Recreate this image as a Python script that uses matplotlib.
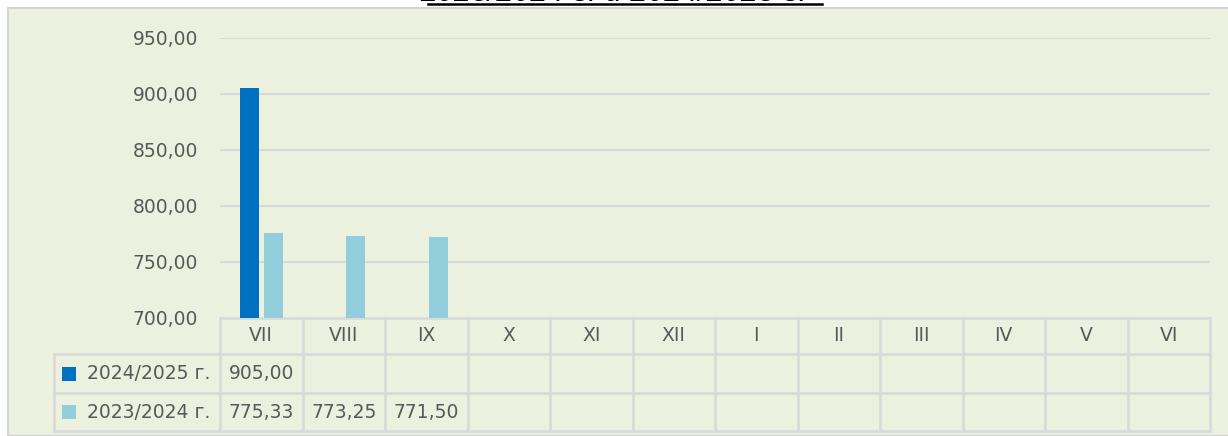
import numpy as np
import matplotlib.pyplot as plt
from matplotlib.patches import Rectangle
from matplotlib.transforms import blended_transform_factory

months = ['VII', 'VIII', 'IX', 'X', 'XI', 'XII', 'I', 'II', 'III', 'IV', 'V', 'VI']
series_names = ['2024/2025 г.', '2023/2024 г.']
vals_2425 = [905.00, None, None, None, None, None, None, None, None, None, None, None]
vals_2324 = [775.33, 773.25, 771.50, None, None, None, None, None, None, None, None, None]
yticks = [700, 750, 800, 850, 900, 950]
title_text = '2023/2024 г. и 2024/2025 г.'

colors = ['#0070C0', '#92CDDC']
bg = '#EBF0DF'
grid_c = '#D9D9D9'
txt_c = '#595959'

W, H = 1228, 436
fig = plt.figure(figsize=(W / 100, H / 100), dpi=100)
fig.patch.set_facecolor('white')

def fx(px):
    return px / W

def fy(py):
    return 1 - py / H

# chart panel
fig.patches.append(Rectangle((fx(8), 0), 1.0, fy(8), transform=fig.transFigure,
                             facecolor=bg, edgecolor='#D4D4D4', linewidth=1.5, zorder=-5))

# title (only its last line fits in the picture)
fig.text(0.5, fy(1), title_text, ha='center', va='baseline', fontsize=22,
         style='italic', family='Liberation Sans', color='black', zorder=5)
fig.add_artist(plt.Line2D([fx(428), fx(822)], [fy(4.5), fy(4.5)], transform=fig.transFigure,
                          color='black', linewidth=1.8))

ax = fig.add_axes([fx(220), fy(317.5), fx(1210) - fx(220), fy(37.7) - fy(317.5)])
ax.set_facecolor('none')
x = np.arange(len(months))
bw = 0.23
off = 0.145
for i, vals in enumerate([vals_2425, vals_2324]):
    v = np.array([np.nan if a is None else a for a in vals], dtype=float)
    ax.bar(x + (off if i else -off), v - 700, bottom=700, width=bw, color=colors[i], zorder=3)

ax.set_xlim(-0.5, len(months) - 0.5)
ax.set_ylim(700, 950)
ax.set_yticks(yticks)
ax.set_yticklabels([f'{t:.2f}'.replace('.', ',') for t in yticks], fontsize=13.5, color=txt_c)
ax.set_xticks([])
ax.tick_params(axis='y', length=0, pad=16)
for t in yticks[1:]:
    ax.axhline(t, color=grid_c, linewidth=1.5, zorder=1)
for s in ax.spines.values():
    s.set_visible(False)

# data table below the plot
tr = blended_transform_factory(ax.transData, fig.transFigure)
lw = 1.8
rows = [317.5, 354, 393, 431]
ax.add_line(plt.Line2D([-0.5, len(months) - 0.5], [fy(rows[0])] * 2, transform=tr,
                       color=grid_c, linewidth=lw, clip_on=False))
for r in rows[1:]:
    fig.add_artist(plt.Line2D([fx(54), fx(1210)], [fy(r), fy(r)], transform=fig.transFigure,
                              color=grid_c, linewidth=lw))
fig.add_artist(plt.Line2D([fx(54), fx(54)], [fy(rows[1]), fy(rows[3])], transform=fig.transFigure,
                          color=grid_c, linewidth=lw))
for b in np.arange(len(months) + 1) - 0.5:
    ax.add_line(plt.Line2D([b, b], [fy(rows[0]), fy(rows[3])], transform=tr,
                           color=grid_c, linewidth=lw, clip_on=False))

for i, m in enumerate(months):
    ax.text(i, fy((rows[0] + rows[1]) / 2), m, transform=tr, ha='center', va='center',
            fontsize=13.5, color=txt_c)

for k, (name, vals) in enumerate(zip(series_names, [vals_2425, vals_2324])):
    yc = (rows[k + 1] + rows[k + 2]) / 2
    fig.patches.append(Rectangle((fx(62), fy(yc + 7)), fx(14), 14 / H, transform=fig.transFigure,
                                 facecolor=colors[k], edgecolor='none'))
    fig.text(fx(87), fy(yc), name, ha='left', va='center', fontsize=13.5, color=txt_c)
    for i, v in enumerate(vals):
        if v is not None:
            ax.text(i, fy(yc), f'{v:.2f}'.replace('.', ','), transform=tr, ha='center',
                    va='center', fontsize=13.5, color=txt_c)

fig.savefig('out.png', dpi=100, facecolor=fig.get_facecolor())
